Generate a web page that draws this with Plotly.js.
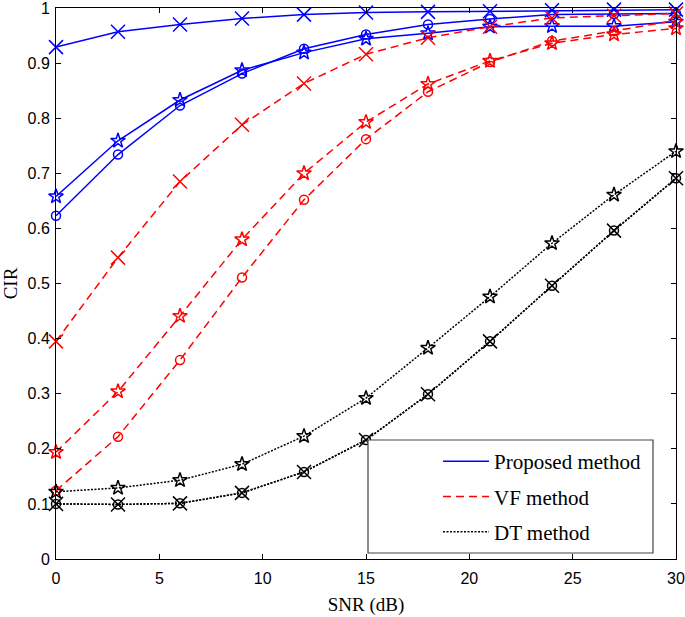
<!DOCTYPE html>
<html>
<head>
<meta charset="utf-8">
<script src="https://cdn.plot.ly/plotly-3.0.1.min.js"></script>
<style>html,body{margin:0;padding:0;background:#fff;}#chart{width:685px;height:617px;}</style>
</head>
<body>
<div id="chart"></div>
<script>
// SNR values (dB)
const snr = [0, 3, 6, 9, 12, 15, 18, 21, 24, 27, 30];

// Proposed method (blue, solid)
const propX      = [0.929, 0.957, 0.970, 0.981, 0.988, 0.992, 0.993, 0.994, 0.996, 0.997, 0.997];
const propStar   = [0.658, 0.759, 0.833, 0.887, 0.919, 0.944, 0.954, 0.966, 0.967, 0.967, 0.975];
const propCircle = [0.623, 0.734, 0.823, 0.881, 0.926, 0.952, 0.970, 0.980, 0.988, 0.989, 0.990];

// VF method (red, dashed)
const vfX      = [0.395, 0.547, 0.685, 0.788, 0.863, 0.916, 0.946, 0.966, 0.982, 0.986, 0.990];
const vfStar   = [0.194, 0.304, 0.441, 0.580, 0.700, 0.793, 0.862, 0.904, 0.936, 0.952, 0.963];
const vfCircle = [0.124, 0.222, 0.361, 0.511, 0.652, 0.762, 0.848, 0.902, 0.940, 0.958, 0.978];

// DT method (black, dotted)
const dtX      = [0.100, 0.099, 0.101, 0.120, 0.158, 0.216, 0.299, 0.395, 0.496, 0.596, 0.691];
const dtStar   = [0.122, 0.129, 0.143, 0.172, 0.223, 0.292, 0.383, 0.476, 0.573, 0.661, 0.740];
const dtCircle = [0.100, 0.099, 0.101, 0.120, 0.158, 0.216, 0.299, 0.395, 0.496, 0.596, 0.691];

const legendNames = ['Proposed method', 'VF method', 'DT method'];
const xTicks = [0, 5, 10, 15, 20, 25, 30];
const xTickText = ['0', '5', '10', '15', '20', '25', '30'];
const yTicks = [0, 0.1, 0.2, 0.3, 0.4, 0.5, 0.6, 0.7, 0.8, 0.9, 1];
const yTickText = ['0', '0.1', '0.2', '0.3', '0.4', '0.5', '0.6', '0.7', '0.8', '0.9', '1'];

const styles = [
  {color: '#0000ff', dash: 'solid'},
  {color: '#ff0000', dash: '8px,5px'},
  {color: '#000000', dash: '2px,1.5px'}
];
const groups = [
  [propX, propStar, propCircle],
  [vfX, vfStar, vfCircle],
  [dtX, dtStar, dtCircle]
];
const symbols = [
  {symbol: 'x-thin-open', size: 14},
  {symbol: 'star-open', size: 11},
  {symbol: 'circle-open', size: 9}
];

const traces = [];
groups.forEach((g, gi) => {
  g.forEach((ys, si) => {
    traces.push({
      x: snr, y: ys, type: 'scatter', mode: 'lines+markers',
      showlegend: false, cliponaxis: false,
      line: {color: styles[gi].color, width: 1.5, dash: styles[gi].dash},
      marker: {symbol: symbols[si].symbol, size: symbols[si].size, color: styles[gi].color,
               line: {color: styles[gi].color, width: 1.5}}
    });
  });
});
legendNames.forEach((n, gi) => {
  traces.push({
    x: [null], y: [null], type: 'scatter', mode: 'lines', name: n,
    legendgroup: 'g' + gi, showlegend: true,
    line: {color: styles[gi].color, width: 1.5, dash: styles[gi].dash}
  });
});

const T = 8, B = 58, PH = 617 - T - B;

const layout = {
  width: 685, height: 617,
  margin: {l: 56, r: 9, t: T, b: B},
  paper_bgcolor: '#fff', plot_bgcolor: '#fff',
  showlegend: true,
  xaxis: {
    range: [0, 30], tickvals: xTicks, ticktext: xTickText,
    ticks: 'inside', ticklen: 5, tickcolor: '#000', mirror: 'ticks', showline: true, linecolor: '#000', linewidth: 1,
    showgrid: false, zeroline: false, ticklabelstandoff: 5, ticklabeloverflow: 'allow',
    tickfont: {family: 'Liberation Sans, Arial, sans-serif', size: 16, color: '#000'},
    title: {text: 'SNR (dB)', font: {family: 'Liberation Serif, Times New Roman, serif', size: 19, color: '#000'}, standoff: 11}
  },
  yaxis: {
    range: [0, 1], tickvals: yTicks, ticktext: yTickText,
    ticks: 'inside', ticklen: 5, tickcolor: '#000', mirror: 'ticks', showline: true, linecolor: '#000', linewidth: 1,
    showgrid: false, zeroline: false, ticklabelstandoff: 2, ticklabeloverflow: 'allow',
    tickfont: {family: 'Liberation Sans, Arial, sans-serif', size: 16, color: '#000'},
    title: {text: 'CIR', font: {family: 'Liberation Serif, Times New Roman, serif', size: 19, color: '#000'}, standoff: 4}
  },
  shapes: [{
    type: 'rect', xref: 'paper', yref: 'paper', layer: 'above',
    x0: (368 - 56) / 620, x1: (653 - 56) / 620,
    y0: (559 - 553) / PH, y1: (559 - 440) / PH,
    fillcolor: '#ffffff', line: {color: '#444', width: 1.2}
  }],
  legend: {
    x: (438 - 56) / 620, y: (559 - 441) / PH, xanchor: 'left', yanchor: 'top',
    bgcolor: 'rgba(0,0,0,0)', borderwidth: 0,
    font: {family: 'Liberation Serif, Times New Roman, serif', size: 21, color: '#000'},
    traceorder: 'grouped', tracegroupgap: 5, itemwidth: 46
  }
};

Plotly.newPlot('chart', traces, layout, {displayModeBar: false, staticPlot: true});
</script>
</body>
</html>
